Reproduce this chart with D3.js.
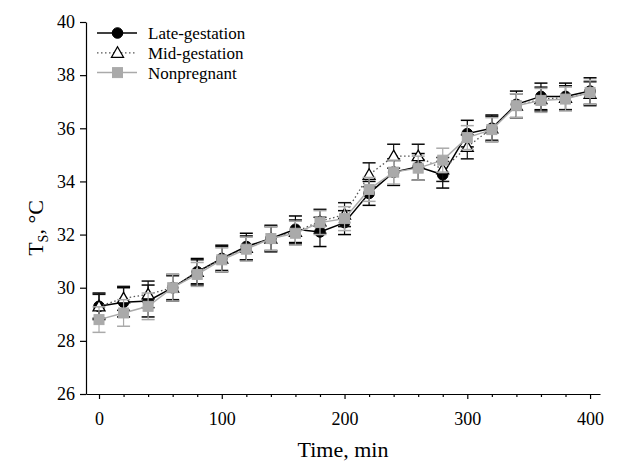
<!DOCTYPE html>
<html><head><meta charset="utf-8">
<script src="https://cdn.jsdelivr.net/npm/d3@7"></script>
<style>body{margin:0;background:#fff}svg{display:block}text{font-family:"Liberation Serif","Times New Roman",serif;fill:#000}</style>
</head><body><svg id="c" width="620" height="465"></svg>
<script>
const times = [0,20,40,60,80,100,120,140,160,180,200,220,240,260,280,300,320,340,360,380,400];
const lateMean = [29.3,29.45,29.5,30.0,30.6,31.1,31.55,31.85,32.2,32.1,32.45,33.55,34.35,34.55,34.25,35.8,36.0,36.9,37.2,37.2,37.4];
const lateErr  = [0.5,0.55,0.6,0.5,0.5,0.5,0.5,0.5,0.5,0.55,0.45,0.45,0.5,0.5,0.5,0.5,0.5,0.5,0.5,0.5,0.5];
const midMean  = [29.3,29.6,29.75,30.0,30.6,31.1,31.5,31.85,32.1,32.5,32.75,34.25,34.95,34.95,34.45,35.3,36.0,36.85,37.1,37.15,37.3];
const midErr   = [0.45,0.45,0.5,0.45,0.45,0.45,0.45,0.45,0.45,0.45,0.45,0.45,0.45,0.45,0.45,0.45,0.45,0.45,0.45,0.45,0.45];
const nonMean  = [28.8,29.05,29.3,30.0,30.5,31.05,31.45,31.85,32.05,32.45,32.6,33.7,34.35,34.5,34.8,35.65,35.95,36.85,37.05,37.1,37.35];
const nonErr   = [0.48,0.5,0.5,0.5,0.45,0.45,0.45,0.45,0.45,0.45,0.45,0.45,0.45,0.45,0.45,0.45,0.45,0.45,0.45,0.45,0.45];
const seriesNames = ["Late-gestation","Mid-gestation","Nonpregnant"];
const xTicks = [0,100,200,300,400];
const xMinor = [20,40,60,80,120,140,160,180,220,240,260,280,320,340,360,380];
const yTicks = [26,28,30,32,34,36,38,40];

const FONT = "'Liberation Serif','Times New Roman',serif";
const svg = d3.select("#c");
const x = d3.scaleLinear().domain([-10.6,408.1]).range([86,600]);
const y = d3.scaleLinear().domain([26,40]).range([394,22]);

// axes
svg.append("g").attr("transform","translate(0,394)")
  .call(d3.axisBottom(x).tickValues(xTicks).tickSize(5).tickPadding(13).tickSizeOuter(0));
svg.append("g").attr("transform","translate(0,394)")
  .call(d3.axisBottom(x).tickValues(xMinor).tickSize(3).tickFormat("").tickSizeOuter(0))
  .select(".domain").remove();
svg.append("g").attr("transform","translate(86,0)")
  .call(d3.axisLeft(y).tickValues(yTicks).tickSize(6).tickPadding(5).tickSizeOuter(0));
svg.selectAll("g").attr("font-family",FONT);
svg.selectAll(".tick text").attr("font-family",FONT).attr("font-size",18).attr("fill","#000");
svg.selectAll(".domain, .tick line").attr("stroke","#000").attr("stroke-width",1.2);

// titles
svg.append("text").attr("x",343).attr("y",457).attr("text-anchor","middle")
  .attr("font-family",FONT).attr("font-size",22).attr("fill","#000").text("Time, min");
const yt = svg.append("text").attr("transform","translate(43,228) rotate(-90)").attr("text-anchor","middle")
  .attr("font-family",FONT).attr("font-size",22).attr("fill","#000");
yt.append("tspan").text("T");
yt.append("tspan").attr("dy",5).attr("font-size",14).text("S");
yt.append("tspan").attr("dy",-5).text(", °C");

const series = [
  {name:seriesNames[0], mean:lateMean, err:lateErr, line:"#000", dash:null, lw:1.5, errCol:"#000", marker:"circle", fill:"#000", stroke:"#000"},
  {name:seriesNames[1], mean:midMean, err:midErr, line:"#555", dash:"1.5,2.5", lw:1.3, errCol:"#111", marker:"triangle", fill:"#fff", stroke:"#000"},
  {name:seriesNames[2], mean:nonMean, err:nonErr, line:"#aaa", dash:null, lw:1.5, errCol:"#aaa", marker:"square", fill:"#aaa", stroke:"#aaa"}
];

function drawMarker(g, type, cx, cy, fill, stroke) {
  if (type === "circle") g.append("circle").attr("cx",cx).attr("cy",cy).attr("r",5.3).attr("fill",fill).attr("stroke",stroke);
  else if (type === "triangle") g.append("path").attr("d",`M${cx},${cy-6}L${cx+6},${cy+4.5}L${cx-6},${cy+4.5}Z`).attr("fill",fill).attr("stroke",stroke).attr("stroke-width",1.3);
  else g.append("rect").attr("x",cx-5).attr("y",cy-5).attr("width",10).attr("height",10).attr("fill",fill).attr("stroke",stroke);
}

series.forEach(s => {
  const g = svg.append("g");
  const data = times.map((t,i)=>({t, m:s.mean[i], e:s.err[i]}));
  data.forEach(d => {
    g.append("line").attr("x1",x(d.t)).attr("x2",x(d.t)).attr("y1",y(d.m-d.e)).attr("y2",y(d.m+d.e)).attr("stroke",s.errCol).attr("stroke-width",1.2);
    [d.m-d.e, d.m+d.e].forEach(v => g.append("line").attr("x1",x(d.t)-6.5).attr("x2",x(d.t)+6.5).attr("y1",y(v)).attr("y2",y(v)).attr("stroke",s.errCol).attr("stroke-width",1.5));
  });
  g.append("path").datum(data).attr("fill","none").attr("stroke",s.line).attr("stroke-width",s.lw)
    .attr("stroke-dasharray",s.dash).attr("d",d3.line().x(d=>x(d.t)).y(d=>y(d.m)));
  data.forEach(d => drawMarker(g, s.marker, x(d.t), y(d.m), s.fill, s.stroke));
});

// legend
series.forEach((s,i) => {
  const ly = 33 + i*19.8;
  const g = svg.append("g");
  g.append("line").attr("x1",97).attr("x2",137).attr("y1",ly).attr("y2",ly).attr("stroke",s.line).attr("stroke-width",s.lw).attr("stroke-dasharray",s.dash);
  drawMarker(g, s.marker, 117.5, ly, s.fill, s.stroke);
  g.append("text").attr("x",148).attr("y",ly).attr("dy","0.35em")
    .attr("font-family",FONT).attr("font-size",17).attr("fill","#000").text(s.name);
});
</script></body></html>
